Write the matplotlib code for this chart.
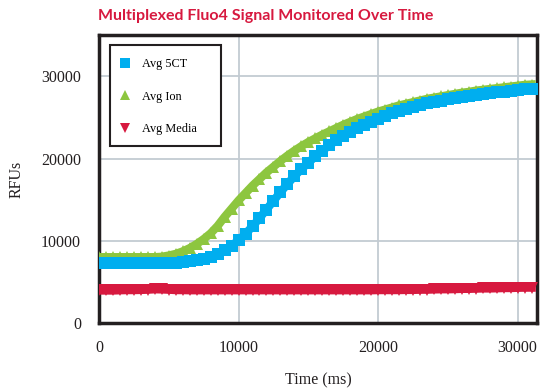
import matplotlib.pyplot as plt
from matplotlib.patches import Rectangle

time_ms = [i * 500 for i in range(63)]

avg_5ct = [7300, 7300, 7300, 7300, 7300, 7300, 7300, 7300, 7300, 7300,
           7300, 7350, 7400, 7500, 7600, 7800, 8050, 8400, 8850, 9400,
           10050, 10850, 11750, 12750, 13800, 14850, 15900, 16900, 17850, 18700,
           19500, 20250, 20950, 21600, 22200, 22750, 23250, 23700, 24100, 24500,
           24850, 25200, 25500, 25800, 26050, 26300, 26500, 26700, 26900, 27050,
           27200, 27350, 27500, 27650, 27750, 27850, 27950, 28050, 28150, 28250,
           28300, 28400, 28450]

avg_ion = [8000, 8000, 8000, 8000, 8000, 8000, 8000, 8000, 8000, 8050,
           8200, 8400, 8700, 9100, 9600, 10200, 10900, 11800, 12900, 13900,
           14900, 15800, 16700, 17500, 18300, 19000, 19700, 20350, 20950, 21500,
           22000, 22450, 22900, 23300, 23700, 24100, 24450, 24800, 25100, 25400,
           25700, 25950, 26200, 26450, 26650, 26850, 27050, 27250, 27400, 27550,
           27700, 27850, 28000, 28100, 28250, 28350, 28450, 28550, 28650, 28750,
           28850, 28950, 29000]

avg_media = [3950, 3950, 3950, 3980, 4000, 4000, 4020, 4050, 4100, 4080,
             4050, 4000, 4000, 3980, 3980, 3980, 3980, 3980, 3980, 3980,
             3980, 3980, 3980, 3980, 3980, 3980, 3980, 3980, 3980, 3980,
             3980, 3980, 3980, 3980, 3980, 3980, 3980, 3980, 3980, 3980,
             4000, 4000, 4000, 4000, 4020, 4020, 4050, 4050, 4080, 4100,
             4100, 4120, 4150, 4150, 4180, 4200, 4200, 4220, 4250, 4250,
             4280, 4300, 4300]

blue = '#00aeef'
green = '#8dc63f'
red = '#d7193f'
ink = '#231f20'
serif = 'Liberation Serif'

fig = plt.figure(figsize=(5.41, 3.91), dpi=100)
ax = fig.add_axes([0.183, 0.174, 0.810, 0.736])

ax.plot(time_ms, avg_media, color=red, lw=6, marker='v', ms=8, mew=0,
        label='Avg Media', zorder=3)
ax.plot(time_ms, avg_ion, color=green, lw=6, marker='^', ms=8, mew=0,
        label='Avg Ion', zorder=4)
ax.plot(time_ms, avg_5ct, color=blue, lw=6, marker='s', ms=8, mew=0,
        label='Avg 5CT', zorder=5)

ax.set_xlim(0, 31400)
ax.set_ylim(0, 35000)
ax.set_xticks([0, 10000, 20000, 30000])
ax.set_yticks([0, 10000, 20000, 30000])
ax.grid(True, color='#c3cbd2', lw=1.3)
ax.set_axisbelow(True)
ax.tick_params(length=0, labelsize=11.5, labelfontfamily=serif, colors=ink)
ax.tick_params(axis='x', pad=12)
ax.tick_params(axis='y', pad=13)
for s in ax.spines.values():
    s.set_linewidth(2.5)
    s.set_color(ink)

ax.set_xlabel('Time (ms)', family=serif, fontsize=11.5, color=ink, labelpad=12)
ax.set_ylabel('RFUs', family=serif, fontsize=11.5, color=ink, labelpad=12)

# legend box drawn by hand, the auto frame came out too wide
ax.add_patch(Rectangle((0.025, 0.615), 0.253, 0.35, transform=ax.transAxes,
                       facecolor='white', edgecolor=ink, lw=1.5, zorder=6))

handles, labels = ax.get_legend_handles_labels()
order = [2, 1, 0]
leg = ax.legend([handles[i] for i in order], [labels[i] for i in order],
                loc='upper left', bbox_to_anchor=(0.015, 0.97),
                prop={'family': serif, 'size': 8.8}, frameon=False,
                labelspacing=1.65, handlelength=0.8, handletextpad=1.0,
                borderpad=0.9, borderaxespad=0.3)
leg.set_zorder(7)
for h in leg.legend_handles:
    h.set_linestyle('none')
    h.set_markersize(7)

fig.text(0.181, 0.948, 'Multiplexed Fluo4 Signal Monitored Over Time',
         color=red, fontsize=11.5, fontweight='bold', family='Lato')

fig.savefig('out.png', dpi=100)
